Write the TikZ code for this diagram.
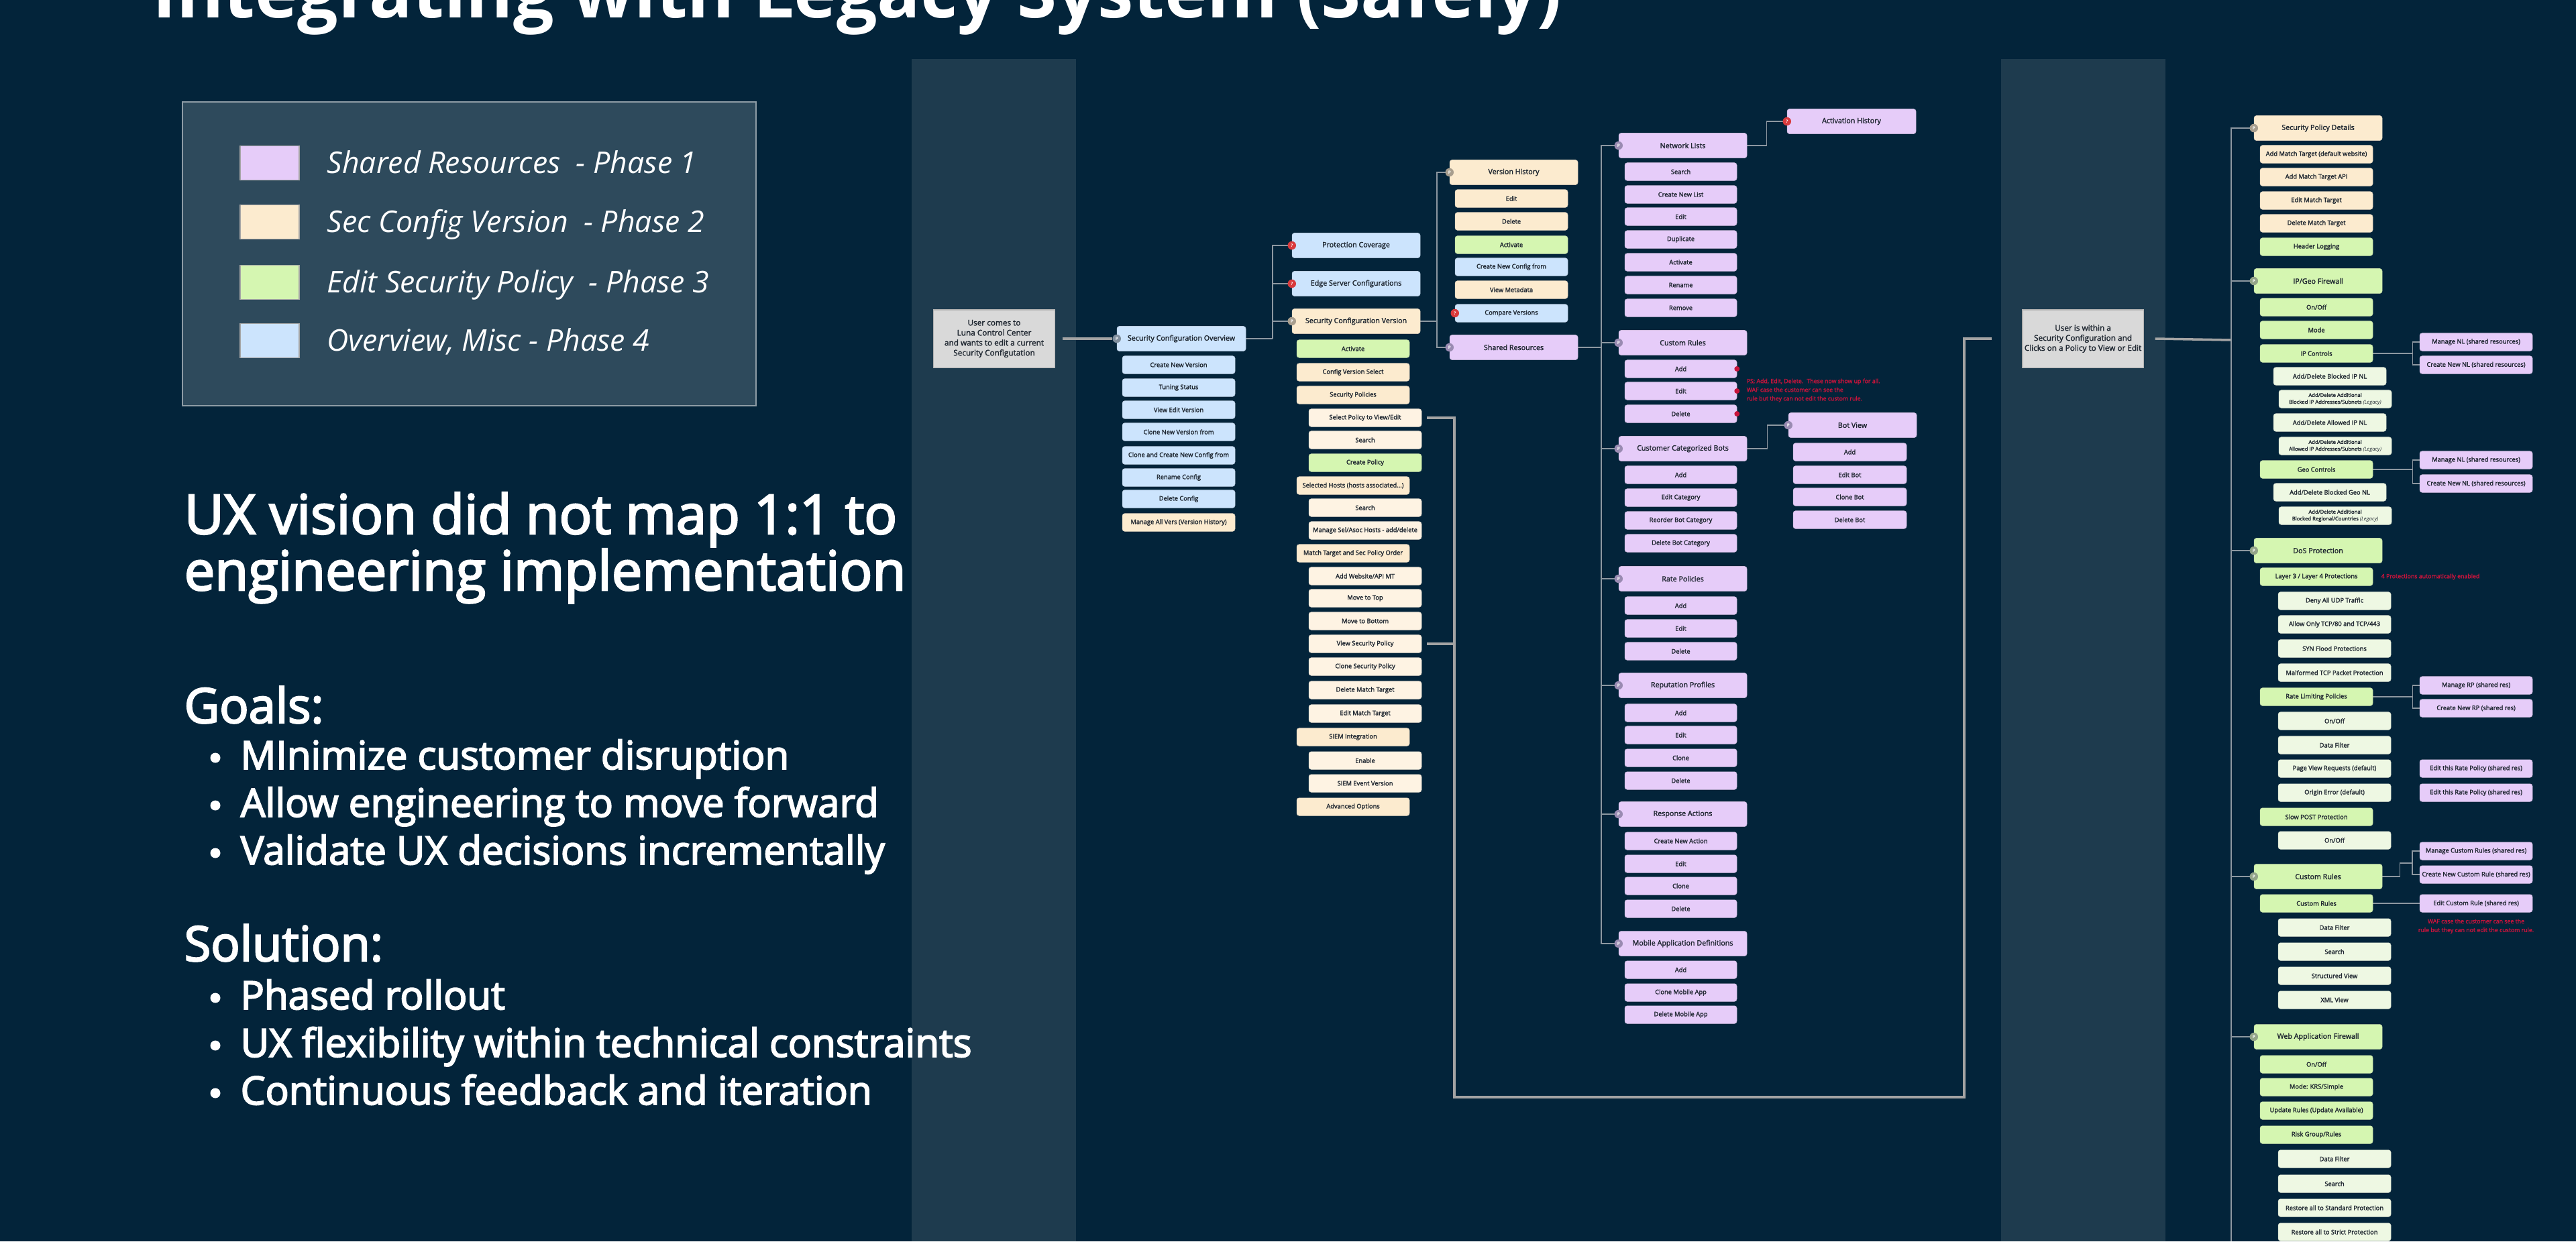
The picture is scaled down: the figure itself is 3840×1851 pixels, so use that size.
\documentclass[tikz,border=0pt]{standalone}
\usepackage{fontspec}
\setmainfont{Open Sans}
\newfontfamily\medfont{Open Sans}[BoldFont={Open Sans}, BoldFeatures={FakeBold=3.2}]
\newfontfamily\nodefont{Open Sans}[BoldFont={Open Sans}, BoldFeatures={FakeBold=2.2}]
\definecolor{bgc}{HTML}{03243A}
\definecolor{band}{HTML}{1E3B4E}
\definecolor{legbg}{HTML}{2E4A5C}
\definecolor{legbd}{HTML}{8E9CA5}
\definecolor{cblue}{HTML}{CCE4FD}
\definecolor{cpeach}{HTML}{FCEBCF}
\definecolor{ccream}{HTML}{FEF3E3}
\definecolor{cgreen}{HTML}{D5F6B1}
\definecolor{cpale}{HTML}{EEF8E3}
\definecolor{cpurple}{HTML}{E6CCF9}
\definecolor{cgrey}{HTML}{D9D9D9}
\definecolor{txt}{HTML}{1E2630}
\definecolor{lnc}{HTML}{8D98A1}
\definecolor{thk}{HTML}{A3A3A3}
\definecolor{btan}{HTML}{A89E8E}
\definecolor{bpur}{HTML}{9A8BB2}
\definecolor{bgrn}{HTML}{93A489}
\definecolor{bblu}{HTML}{7F8E9D}
\definecolor{bred}{HTML}{D93A3C}
\definecolor{notec}{HTML}{C8143C}
\newcommand\fsm{\nodefont\bfseries\fontsize{2.65pt}{3.2pt}\selectfont}
\newcommand\fhd{\nodefont\bfseries\fontsize{3.05pt}{3.6pt}\selectfont}
\newcommand\fgb{\nodefont\bfseries\fontsize{3.35pt}{4.25pt}\selectfont}
\newcommand\fleg{\nodefont\bfseries\fontsize{2.2pt}{2.9pt}\selectfont}
\newcommand\fnote{\nodefont\bfseries\fontsize{2.5pt}{3.7pt}\selectfont}
\newcommand\fbdg{\fontsize{1.8pt}{2pt}\selectfont\bfseries}
\pgfdeclarelayer{back}\pgfdeclarelayer{bg}\pgfsetlayers{back,bg,main}
\tikzset{
  nb/.style={rounded corners=0.035cm, inner sep=0pt, text=txt, font=\fsm, line width=0.15pt, minimum height=0.265cm, align=center},
  hb/.style={nb, minimum height=0.37cm, font=\fhd},
  badge/.style={circle, fill=#1, inner sep=0pt, minimum size=0.125cm, text=white, font=\fbdg},
  ln/.style={draw=lnc, line width=0.35pt},
  tk/.style={draw=thk, line width=1pt},
  gbox/.style={fill=cgrey, draw=gray!60, line width=0.3pt, inner sep=0pt, text=txt, font=\fgb, align=center, minimum width=1.8cm, minimum height=0.86cm},
  swatch/.style={draw=gray!70, line width=0.5pt, minimum width=0.88cm, minimum height=0.51cm, inner sep=0pt},
  legtext/.style={anchor=base west, inner sep=0pt, text=white, font=\fontsize{12.7pt}{14pt}\selectfont\itshape},
  note/.style={inner sep=0pt, text=notec, font=\fnote},
  rdot/.style={circle, fill=notec, inner sep=0pt, minimum size=0.08cm},
  bul/.style={circle, fill=white, inner sep=0pt, minimum size=0.15cm},
  lt/.style={anchor=base west, inner sep=0pt, text=white},
  lh/.style={lt, font=\medfont\bfseries\fontsize{23.1pt}{24pt}\selectfont},
  lg/.style={lt, font=\medfont\bfseries\fontsize{20.5pt}{24pt}\selectfont},
  lb/.style={lt, font=\medfont\bfseries\fontsize{16.6pt}{20pt}\selectfont},
}
\newcommand\bx[7][]{\node[nb, fill=#3, draw=#3!75!gray, minimum width={(#5-#4)*0.01cm}, #1] (#2) at ({(#4+#5)/2},#6) {#7};}
\newcommand\hx[6]{\node[hb, fill=#2, draw=#2!75!gray, minimum width={(#4-#3)*0.01cm}] (#1) at ({(#3+#4)/2},#5) {#6};}
\newcommand\bdg[3]{\node[badge=#2] (#1-b) at (#1.west) {#3};}
\begin{document}
\begin{tikzpicture}[x=0.01cm,y=-0.01cm]
\useasboundingbox (0,0) rectangle (3840,1851);
\begin{pgfonlayer}{back}
\fill[bgc] (0,0) rectangle (3840,1851);
\fill[band] (1359,88) rectangle (1604,1851);
\fill[band] (2983,88) rectangle (3228,1851);
\end{pgfonlayer}
% title
\node[lt, font=\fontsize{30.5pt}{33pt}\selectfont\bfseries] (title) at (227,26) {Integrating with Legacy System (Safely)};
% legend
\node[draw=legbd, line width=0.6pt, fill=legbg, minimum width=8.55cm, minimum height=4.53cm, inner sep=0pt] (legend) at (699.5,378.5) {};
\node[swatch, fill=cpurple] (sw1) at (402,243) {};
\node[swatch, fill=cpeach] (sw2) at (402,331) {};
\node[swatch, fill=cgreen] (sw3) at (402,421) {};
\node[swatch, fill=cblue] (sw4) at (402,508) {};
\node[legtext] (lg1) at (487,258) {Shared Resources~ - Phase 1};
\node[legtext] (lg2) at (487,346) {Sec Config Version~ - Phase 2};
\node[legtext] (lg3) at (487,436) {Edit Security Policy~ - Phase 3};
\node[legtext] (lg4) at (487,523) {Overview, Misc - Phase 4};
% left text
\node[lh] (ux1) at (274,796) {UX vision did not map 1:1 to};
\node[lh] (ux2) at (274,880) {engineering implementation};
\node[lg] (goals) at (274,1078) {Goals:};
\node[lb] (g1) at (358,1147) {MInimize customer disruption};
\node[lb] (g2) at (358,1218) {Allow engineering to move forward};
\node[lb] (g3) at (358,1289) {Validate UX decisions incrementally};
\node[lg] (sol) at (274,1433) {Solution:};
\node[lb] (s1) at (358,1505) {Phased rollout};
\node[lb] (s2) at (358,1576) {UX flexibility within technical constraints};
\node[lb] (s3) at (358,1647) {Continuous feedback and iteration};
\node[bul] (bu1) at (321,1130) {};
\node[bul] (bu2) at (321,1201) {};
\node[bul] (bu3) at (321,1272) {};
\node[bul] (bu4) at (321,1488) {};
\node[bul] (bu5) at (321,1559) {};
\node[bul] (bu6) at (321,1630) {};
% column A
\node[gbox] (uc) at (1482,505) {User comes to\\Luna Control Center\\and wants to edit a current\\Security Configutation};
\hx{sco}{cblue}{1665}{1857}{505}{Security Configuration Overview}
\bx{a1}{cblue}{1673}{1841}{544}{Create New Version}
\bx{a2}{cblue}{1673}{1841}{578}{Tuning Status}
\bx{a3}{cblue}{1673}{1841}{611}{View Edit Version}
\bx{a4}{cblue}{1673}{1841}{644}{Clone New Version from}
\bx{a5}{cblue}{1673}{1841}{679}{Clone and Create New Config from}
\bx{a6}{cblue}{1673}{1841}{712}{Rename Config}
\bx{a7}{cblue}{1673}{1841}{744}{Delete Config}
\bx{a8}{cpeach}{1673}{1841}{779}{Manage All Vers (Version History)}
% column B
\hx{pc}{cblue}{1926}{2117}{366}{Protection Coverage}
\hx{esc}{cblue}{1926}{2117}{423}{Edge Server Configurations}
\hx{scv}{cpeach}{1926}{2117}{479}{Security Configuration Version}
\bx{b1}{cgreen}{1933}{2101}{520}{Activate}
\bx{b2}{cpeach}{1933}{2101}{555}{Config Version Select}
\bx{b3}{cpeach}{1933}{2101}{589}{Security Policies}
\bx{b4}{ccream}{1951}{2119}{623}{Select Policy to View/Edit}
\bx{b5}{ccream}{1951}{2119}{656}{Search}
\bx{b6}{cgreen}{1951}{2119}{690}{Create Policy}
\bx{b7}{cpeach}{1933}{2101}{724}{Selected Hosts (hosts associated...)}
\bx{b8}{ccream}{1951}{2119}{757}{Search}
\bx{b9}{ccream}{1951}{2119}{791}{Manage Sel/Asoc Hosts - add/delete}
\bx{b10}{cpeach}{1933}{2101}{825}{Match Target and Sec Policy Order}
\bx{b11}{ccream}{1951}{2119}{859}{Add Website/API MT}
\bx{b12}{ccream}{1951}{2119}{892}{Move to Top}
\bx{b13}{ccream}{1951}{2119}{926}{Move to Bottom}
\bx{b14}{ccream}{1951}{2119}{960}{View Security Policy}
\bx{b15}{ccream}{1951}{2119}{994}{Clone Security Policy}
\bx{b16}{ccream}{1951}{2119}{1029}{Delete Match Target}
\bx{b17}{ccream}{1951}{2119}{1064}{Edit Match Target}
\bx{b18}{cpeach}{1933}{2101}{1099}{SIEM Integration}
\bx{b19}{ccream}{1951}{2119}{1134}{Enable}
\bx{b20}{ccream}{1951}{2119}{1168}{SIEM Event Version}
\bx{b21}{cpeach}{1933}{2101}{1203}{Advanced Options}
% column C
\hx{vh}{cpeach}{2161}{2352}{257}{Version History}
\bx{c1}{cpeach}{2169}{2337}{296}{Edit}
\bx{c2}{cpeach}{2169}{2337}{330}{Delete}
\bx{c3}{cgreen}{2169}{2337}{365}{Activate}
\bx{c4}{cblue}{2169}{2337}{398}{Create New Config from}
\bx{c5}{cpeach}{2169}{2337}{432}{View Metadata}
\bx{c6}{cblue}{2169}{2337}{467}{Compare Versions}
\hx{sr}{cpurple}{2161}{2352}{518}{Shared Resources}
% column D
\hx{nl}{cpurple}{2413}{2604}{217}{Network Lists}
\bx{d1}{cpurple}{2422}{2589}{256}{Search}
\bx{d2}{cpurple}{2422}{2589}{290}{Create New List}
\bx{d3}{cpurple}{2422}{2589}{323}{Edit}
\bx{d4}{cpurple}{2422}{2589}{357}{Duplicate}
\bx{d5}{cpurple}{2422}{2589}{391}{Activate}
\bx{d6}{cpurple}{2422}{2589}{425}{Rename}
\bx{d7}{cpurple}{2422}{2589}{459}{Remove}
\hx{crd}{cpurple}{2413}{2604}{511}{Custom Rules}
\bx{d8}{cpurple}{2422}{2589}{550}{Add}
\bx{d9}{cpurple}{2422}{2589}{583}{Edit}
\bx{d10}{cpurple}{2422}{2589}{617}{Delete}
\hx{ccb}{cpurple}{2413}{2604}{669}{Customer Categorized Bots}
\bx{d11}{cpurple}{2422}{2589}{708}{Add}
\bx{d12}{cpurple}{2422}{2589}{742}{Edit Category}
\bx{d13}{cpurple}{2422}{2589}{776}{Reorder Bot Category}
\bx{d14}{cpurple}{2422}{2589}{810}{Delete Bot Category}
\hx{rpol}{cpurple}{2413}{2604}{863}{Rate Policies}
\bx{d15}{cpurple}{2422}{2589}{903}{Add}
\bx{d16}{cpurple}{2422}{2589}{937}{Edit}
\bx{d17}{cpurple}{2422}{2589}{971}{Delete}
\hx{rep}{cpurple}{2413}{2604}{1022}{Reputation Profiles}
\bx{d18}{cpurple}{2422}{2589}{1063}{Add}
\bx{d19}{cpurple}{2422}{2589}{1096}{Edit}
\bx{d20}{cpurple}{2422}{2589}{1130}{Clone}
\bx{d21}{cpurple}{2422}{2589}{1164}{Delete}
\hx{ra}{cpurple}{2413}{2604}{1214}{Response Actions}
\bx{d22}{cpurple}{2422}{2589}{1254}{Create New Action}
\bx{d23}{cpurple}{2422}{2589}{1288}{Edit}
\bx{d24}{cpurple}{2422}{2589}{1321}{Clone}
\bx{d25}{cpurple}{2422}{2589}{1355}{Delete}
\hx{mad}{cpurple}{2413}{2604}{1407}{Mobile Application Definitions}
\bx{d26}{cpurple}{2422}{2589}{1446}{Add}
\bx{d27}{cpurple}{2422}{2589}{1480}{Clone Mobile App}
\bx{d28}{cpurple}{2422}{2589}{1513}{Delete Mobile App}
% column E
\hx{ah}{cpurple}{2664}{2856}{181}{Activation History}
\hx{bv}{cpurple}{2666}{2857}{634}{Bot View}
\bx{e1}{cpurple}{2673}{2842}{674}{Add}
\bx{e2}{cpurple}{2673}{2842}{708}{Edit Bot}
\bx{e3}{cpurple}{2673}{2842}{741}{Clone Bot}
\bx{e4}{cpurple}{2673}{2842}{775}{Delete Bot}
\node[note, anchor=west, align=left] (n1) at (2603,582) {PS; Add, Edit, Delete.~ These now show up for all.\\WAF case the customer can see the\\rule but they can not edit the custom rule.};
\node[rdot] (d8-r) at (d8.east) {};
\node[rdot] (d9-r) at (d9.east) {};
\node[rdot] (d10-r) at (d10.east) {};
% user within
\node[gbox] (uw) at (3105,505) {User is within a\\Security Configuration and\\Clicks on a Policy to View or Edit};
% column F
\hx{spd}{cpeach}{3360}{3551}{191}{Security Policy Details}
\bx{f1}{cpeach}{3369}{3537}{230}{Add Match Target (default website)}
\bx{f2}{cpeach}{3369}{3537}{264}{Add Match Target API}
\bx{f3}{cpeach}{3369}{3537}{299}{Edit Match Target}
\bx{f4}{cpeach}{3369}{3537}{333}{Delete Match Target}
\bx{f5}{cgreen}{3369}{3537}{368}{Header Logging}
\hx{ipg}{cgreen}{3360}{3551}{419}{IP/Geo Firewall}
\bx{f6}{cgreen}{3369}{3537}{458}{On/Off}
\bx{f7}{cgreen}{3369}{3537}{492}{Mode}
\bx{ipc}{cgreen}{3369}{3537}{527}{IP Controls}
\bx{f8}{cpale}{3389}{3557}{561}{Add/Delete Blocked IP NL}
\bx[font=\fleg]{f9}{cpale}{3397}{3565}{595}{Add/Delete Additional\\Blocked IP Addresses/Subnets \textit{(Legacy)}}
\bx{f10}{cpale}{3389}{3557}{630}{Add/Delete Allowed IP NL}
\bx[font=\fleg]{f11}{cpale}{3397}{3565}{665}{Add/Delete Additional\\Allowed IP Addresses/Subnets \textit{(Legacy)}}
\bx{geo}{cgreen}{3369}{3537}{700}{Geo Controls}
\bx{f12}{cpale}{3389}{3557}{734}{Add/Delete Blocked Geo NL}
\bx[font=\fleg]{f13}{cpale}{3397}{3565}{769}{Add/Delete Additional\\Blocked Regional/Countries \textit{(Legacy)}}
\hx{dos}{cgreen}{3360}{3551}{821}{DoS Protection}
\bx{f14}{cgreen}{3369}{3537}{860}{Layer 3 / Layer 4 Protections}
\bx{f15}{cpale}{3396}{3564}{896}{Deny All UDP Traffic}
\bx{f16}{cpale}{3396}{3564}{931}{Allow Only TCP/80 and TCP/443}
\bx{f17}{cpale}{3396}{3564}{967}{SYN Flood Protections}
\bx{f18}{cpale}{3396}{3564}{1003}{Malformed TCP Packet Protection}
\bx{rlp}{cgreen}{3369}{3537}{1039}{Rate Limiting Policies}
\bx{f19}{cpale}{3396}{3564}{1075}{On/Off}
\bx{f20}{cpale}{3396}{3564}{1111}{Data Filter}
\bx{f21}{cpale}{3396}{3564}{1146}{Page View Requests (default)}
\bx{f22}{cpale}{3396}{3564}{1182}{Origin Error (default)}
\bx{f23}{cgreen}{3369}{3537}{1218}{Slow POST Protection}
\bx{f24}{cpale}{3396}{3564}{1253}{On/Off}
\hx{crh}{cgreen}{3360}{3551}{1307}{Custom Rules}
\bx{cr1}{cgreen}{3369}{3537}{1347}{Custom Rules}
\bx{f25}{cpale}{3396}{3564}{1383}{Data Filter}
\bx{f26}{cpale}{3396}{3564}{1419}{Search}
\bx{f27}{cpale}{3396}{3564}{1455}{Structured View}
\bx{f28}{cpale}{3396}{3564}{1491}{XML View}
\hx{waf}{cgreen}{3360}{3551}{1546}{Web Application Firewall}
\bx{f29}{cgreen}{3369}{3537}{1587}{On/Off}
\bx{f30}{cgreen}{3369}{3537}{1621}{Mode: KRS/Simple}
\bx{f31}{cgreen}{3369}{3537}{1656}{Update Rules (Update Available)}
\bx{f32}{cgreen}{3369}{3537}{1692}{Risk Group/Rules}
\bx{f33}{cpale}{3396}{3564}{1728}{Data Filter}
\bx{f34}{cpale}{3396}{3564}{1765}{Search}
\bx{f35}{cpale}{3396}{3564}{1801}{Restore all to Standard Protection}
\bx{f36}{cpale}{3396}{3564}{1837}{Restore all to Strict Protection}
% column G
\bx{g1}{cpurple}{3607}{3775}{510}{Manage NL (shared resources)}
\bx{g2}{cpurple}{3607}{3775}{544}{Create New NL (shared resources)}
\bx{g3}{cpurple}{3607}{3775}{686}{Manage NL (shared resources)}
\bx{g4}{cpurple}{3607}{3775}{721}{Create New NL (shared resources)}
\bx{g5}{cpurple}{3607}{3775}{1022}{Manage RP (shared res)}
\bx{g6}{cpurple}{3607}{3775}{1056}{Create New RP (shared res)}
\bx{g7}{cpurple}{3607}{3775}{1146}{Edit this Rate Policy (shared res)}
\bx{g8}{cpurple}{3607}{3775}{1182}{Edit this Rate Policy (shared res)}
\bx{g9}{cpurple}{3607}{3775}{1269}{Manage Custom Rules (shared res)}
\bx{g10}{cpurple}{3607}{3775}{1304}{Create New Custom Rule (shared res)}
\bx{g11}{cpurple}{3607}{3775}{1347}{Edit Custom Rule (shared res)}
\node[note, anchor=west] (n2) at (3549,860) {4 Protections automatically enabled};
\node[note, align=center] (n3) at (3691,1381) {WAF case the customer can see the\\rule but they can not edit the custom rule.};
% badges
\bdg{sco}{bblu}{P}
\bdg{pc}{bred}{?}
\bdg{esc}{bred}{?}
\bdg{scv}{btan}{P}
\bdg{vh}{btan}{P}
\bdg{c6}{bred}{?}
\bdg{sr}{bpur}{P}
\bdg{nl}{bpur}{P}
\bdg{crd}{bpur}{P}
\bdg{ccb}{bpur}{P}
\bdg{rpol}{bpur}{P}
\bdg{rep}{bpur}{P}
\bdg{ra}{bpur}{P}
\bdg{mad}{bpur}{P}
\bdg{ah}{bred}{?}
\bdg{bv}{bpur}{P}
\bdg{spd}{btan}{P}
\bdg{ipg}{bgrn}{P}
\bdg{dos}{bgrn}{P}
\bdg{crh}{bgrn}{P}
\bdg{waf}{bgrn}{P}
% connectors
\coordinate (jB) at (1897,505);
\coordinate (jC) at (2142,479);
\coordinate (jD) at (2387,518);
\coordinate (jP) at (2168,623);
\coordinate (jQ) at (2168,1636);
\coordinate (jR) at (2928,1636);
\coordinate (jS) at (2928,505);
\coordinate (jT) at (2969,505);
\coordinate (jF) at (3326,507);
\coordinate (jFb) at (3326,1851);
\coordinate (jcr) at (3596,1287);
\begin{pgfonlayer}{bg}
\draw[tk] ([xshift=0.11cm]uc.east) -- (sco-b.west);
\draw[ln] (sco.east) -- (jB);
\draw[ln] (pc.west) -| (jB);
\draw[ln] (esc.west) -| (jB);
\draw[ln] (scv.west) -| (jB);
\draw[ln] (scv.east) -- (jC);
\draw[ln] (vh.west) -| (jC);
\draw[ln] (sr.west) -| (jC);
\draw[ln] (sr.east) -- (jD);
\foreach \h in {nl,crd,ccb,rpol,rep,ra,mad} {\draw[ln] (\h.west) -| (jD);}
\draw[ln] (nl.east) -- ++(29,0) |- (ah.west);
\draw[ln] (ccb.east) -- ++(30,0) |- (bv.west);
\draw[tk] ([xshift=0.08cm]b4.east) -- (jP) -- (jQ) -- (jR) -- (jS) -- (jT);
\draw[tk] ([xshift=0.08cm]b14.east) -- (b14.east -| jP);
\draw[tk] ([xshift=0.17cm]uw.east) -- (jF);
\foreach \h in {spd,ipg,dos,crh,waf} {\draw[ln] (\h.west) -| (jFb);}
\draw[ln] (ipc.east) -- ++(59,0) |- (g1.west);
\draw[ln] (ipc.east) -- ++(59,0) |- (g2.west);
\draw[ln] (geo.east) -- ++(59,0) |- (g3.west);
\draw[ln] (geo.east) -- ++(59,0) |- (g4.west);
\draw[ln] (rlp.east) -- ++(59,0) |- (g5.west);
\draw[ln] (rlp.east) -- ++(59,0) |- (g6.west);
\draw[ln] (crh.east) -- ++(26,0) |- (jcr);
\draw[ln] (g9.west) -| (jcr);
\draw[ln] (g10.west) -| (jcr);
\draw[ln] (cr1.east) -- (g11.west);
\end{pgfonlayer}
\end{tikzpicture}
\end{document}
